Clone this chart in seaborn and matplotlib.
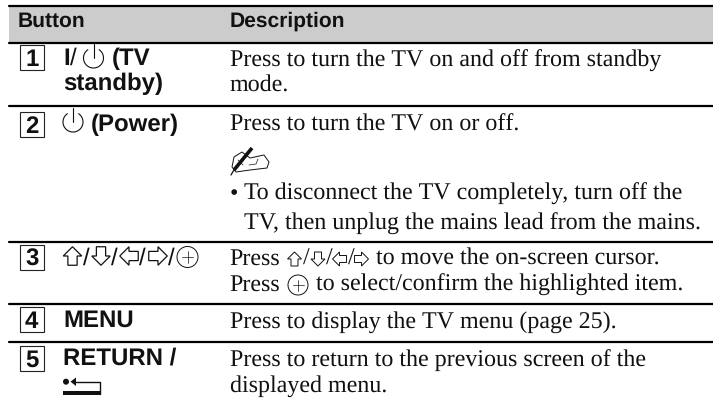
import pandas as pd
import matplotlib.pyplot as plt
from matplotlib.patches import Arc, Circle, Polygon, Rectangle
import seaborn as sns

# table content
header = ['Button', 'Description']
button_numbers = ['1', '2', '3', '4', '5']
desc_lines = [
    'Press to turn the TV on and off from standby',
    'mode.',
    'Press to turn the TV on or off.',
    'To disconnect the TV completely, turn off the',
    'TV, then unplug the mains lead from the mains.',
    'to move the on-screen cursor.',
    'to select/confirm the highlighted item.',
    'Press to display the TV menu (page 25).',
    'Press to return to the previous screen of the',
    'displayed menu.',
]

# layout, in pixels of the 713x404 picture
rule_y = [5.5, 42.5, 105.5, 242, 303.5, 341.5]
box_top = [44.5, 112, 244.5, 307, 346]
desc_base = [66.5, 92, 131, 200, 230, 265, 291, 328, 366.5, 391.5]
desc_x = [229.5, 229.5, 229.5, 244.5, 244.5, 375.5, 316.5, 229.5, 229.5, 229.5]

SERIF = 'Liberation Serif'
SANS = 'Liberation Sans'
SERIF_SIZE = 17.15
BOLD_SIZE = 17.0
HEAD_SIZE = 15.0
INK = '#111111'

sns.set_theme(style='white')
plt.rcParams['text.hinting'] = 'no_hinting'
plt.rcParams['text.hinting_factor'] = 1
fig = plt.figure(figsize=(7.13, 4.04), dpi=100)
ax = fig.add_axes([0, 0, 1, 1])

# header band, then the horizontal rules
ax.add_patch(Rectangle((9, 5), 704, 37, color='#cccccc', lw=0, zorder=0))
rules = pd.DataFrame({
    'x': [9, 713] * len(rule_y),
    'y': [y for y in rule_y for _ in range(2)],
    'rule': [i for i in range(len(rule_y)) for _ in range(2)],
})
sns.lineplot(data=rules, x='x', y='y', units='rule', estimator=None,
             color='black', lw=1.6, ax=ax, legend=False)

ax.set_xlim(0, 713)
ax.set_ylim(404, 0)
ax.axis('off')


def serif(x, y, s, size=SERIF_SIZE):
    ax.text(x, y, s, family=SERIF, fontsize=size, color=INK, va='baseline')


def bold(x, y, s, size=BOLD_SIZE):
    ax.text(x, y, s, family=SANS, fontsize=size, weight='bold', color=INK, va='baseline')


def power(cx, cy, d):
    ax.add_patch(Arc((cx, cy), d, d, theta1=-58, theta2=238, lw=0.8, color=INK))
    ax.plot([cx, cx], [cy - d * 0.72, cy], color=INK, lw=0.8)


def circle_plus(cx, cy, r, lw=0.7):
    ax.add_patch(Circle((cx, cy), r, fill=False, lw=lw, color=INK))
    ax.plot([cx - r * 0.55, cx + r * 0.55], [cy, cy], color=INK, lw=0.5)
    ax.plot([cx, cx], [cy - r * 0.55, cy + r * 0.55], color=INK, lw=0.5)


def arrow(cx, cy, s, direction, lw=0.9):
    # hollow block arrow, s is the full length and width in pixels
    h = s / 2
    q = s / 4
    shape = [(0, -h), (h, 0), (q, 0), (q, h), (-q, h), (-q, 0), (-h, 0)]
    if direction == 'down':
        shape = [(x, -y) for x, y in shape]
    elif direction == 'left':
        shape = [(y, x) for x, y in shape]
    elif direction == 'right':
        shape = [(-y, x) for x, y in shape]
    pts = [(cx + x, cy + y) for x, y in shape]
    ax.add_patch(Polygon(pts, closed=True, fill=False, lw=lw, edgecolor=INK, joinstyle='miter'))


# header
bold(17.5, 27, header[0], HEAD_SIZE)
bold(229.5, 27, header[1], HEAD_SIZE)

# numbered boxes
for num, top in zip(button_numbers, box_top):
    ax.add_patch(Rectangle((19.5, top), 24.5, 25, fill=False, lw=0.8, edgecolor='#222222'))
    ax.text(31.7, top + 21, num, family=SANS, fontsize=17, weight='bold', color=INK,
            ha='center', va='baseline')

# button column
bold(63, 65, 'I')
ax.text(70, 65, '/', family=SANS, fontsize=BOLD_SIZE, color=INK, va='baseline')
power(93.5, 58, 20)
bold(112, 65, '(TV')
bold(63, 90, 'standby)')
power(73, 122, 20)
bold(91, 131, '(Power)')
for x, d in zip([72.5, 101, 129, 158], ['up', 'down', 'left', 'right']):
    arrow(x, 256, 18.5, d)
for x in [83, 111, 139, 168]:
    ax.text(x, 265, '/', family=SANS, fontsize=BOLD_SIZE, color=INK, va='baseline')
circle_plus(187.5, 257, 10.5)
bold(63, 327, 'MENU')
bold(63, 365, 'RETURN /')

# return icon
ax.add_patch(Circle((66, 381.7), 3, color=INK, lw=0))
ax.add_patch(Polygon([(70.5, 381.7), (76, 377.5), (76, 386)], color=INK, lw=0))
ax.plot([75, 99.5, 99.5], [381.7, 381.7, 394], color=INK, lw=1.0)
ax.add_patch(Rectangle((63, 390.5), 37.5, 4.5, color=INK, lw=0))

# description column
for x, y, s in zip(desc_x, desc_base, desc_lines):
    serif(x, y, s)
serif(229.5, 265, 'Press')
serif(229.5, 291, 'Press')
serif(229.5, 200, '\u2022')
for x, d in zip([294.5, 318, 339.5, 361.5], ['up', 'down', 'left', 'right']):
    arrow(x, 259, 14, d, lw=0.7)
for x in [303, 326, 348]:
    serif(x, 265, '/')
circle_plus(298, 285, 10, lw=0.7)

# note icon: pen, hand and fingers
ax.plot([234, 252], [170, 148], color=INK, lw=2.6, solid_capstyle='butt')
ax.plot([231, 234.5], [175, 169], color=INK, lw=0.9)
hand = Polygon([(232, 167), (234, 157), (242, 152), (250, 158), (264, 155),
                (269, 162), (267, 168), (250, 170), (236, 172)],
               closed=True, fill=False, lw=0.7, edgecolor=INK)
ax.add_patch(hand)
ax.plot([249, 256, 258], [165, 164, 159], color=INK, lw=0.5)
ax.plot([238, 243], [160, 165], color=INK, lw=0.5)

fig.savefig('out.png', dpi=100)
